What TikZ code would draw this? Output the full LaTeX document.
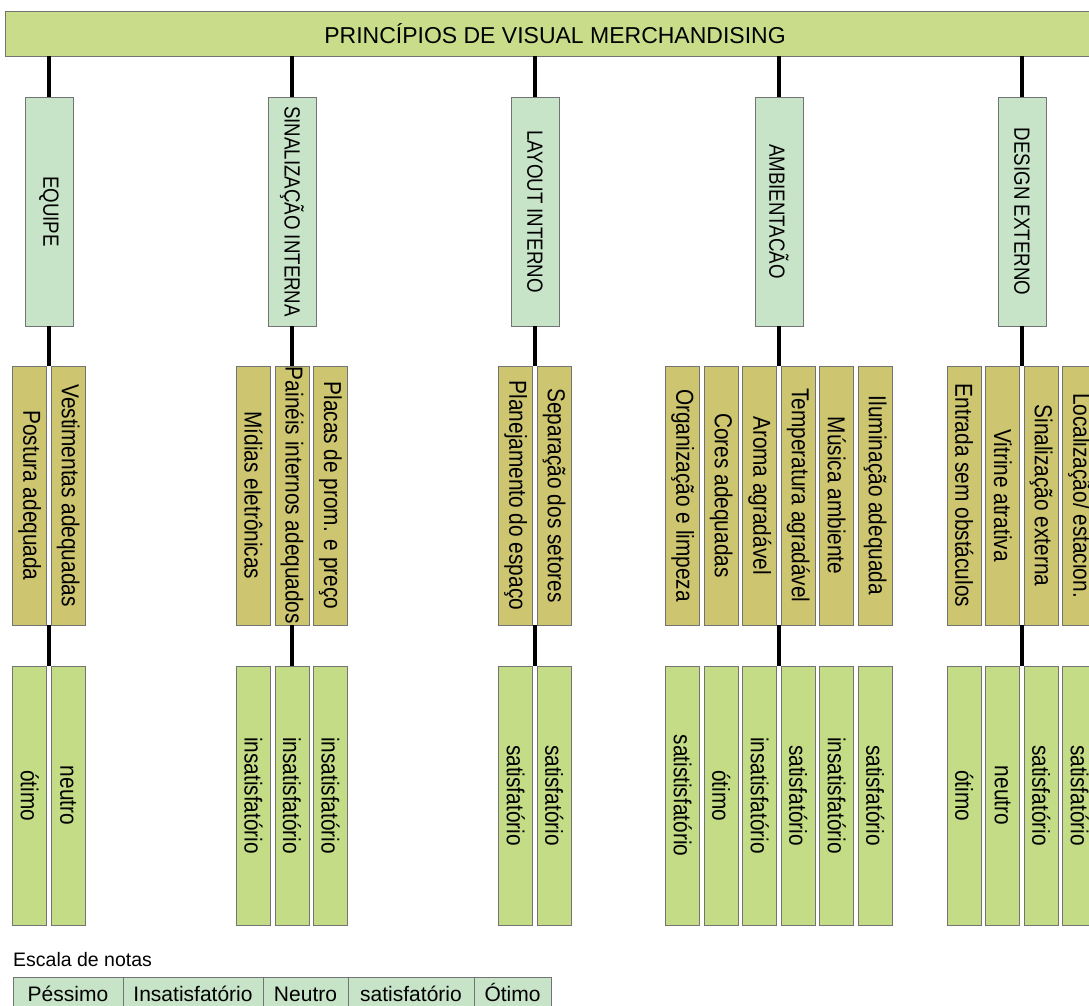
\documentclass[tikz,border=0pt]{standalone}
\usepackage{fontspec}
\setmainfont{Liberation Sans}
\newfontfamily\narrowsans[FakeStretch=0.85]{Liberation Sans}
\usetikzlibrary{positioning, chains}

\definecolor{headgreen}{RGB}{200,220,138}
\definecolor{pillargreen}{RGB}{200,228,200}
\definecolor{critolive}{RGB}{205,197,112}
\definecolor{gradegreen}{RGB}{197,220,134}

\newcommand{\vtxt}[1]{\rotatebox{-90}{#1}}

\begin{document}
\begin{tikzpicture}[x=1pt, y=-1pt, node distance=3.7pt,
    box/.style={draw=black!55, line width=0.8pt, inner sep=0pt},
    headbar/.style={box, fill=headgreen, minimum width=1100pt, minimum height=45pt,
      font=\fontsize{23}{27}\selectfont},
    pillar/.style={box, fill=pillargreen, minimum width=48pt, minimum height=229pt,
      font=\narrowsans\fontsize{22}{24}\selectfont},
    crit/.style={box, fill=critolive, minimum width=34pt, minimum height=259pt,
      font=\narrowsans\fontsize{24.5}{26}\selectfont},
    grade/.style={crit, fill=gradegreen},
    notecell/.style={box, fill=pillargreen, outer sep=0pt, minimum height=36pt,
      text height=16pt, text depth=4pt, font=\fontsize{21}{24}\selectfont},
    link/.style={line width=4.5pt}]

  \useasboundingbox (0,0) rectangle (1089,1006);
  \clip (0,0) rectangle (1089,1006);

  \node[headbar] (head) at (555,33.5) {PRINCÍPIOS DE VISUAL MERCHANDISING};

  % the five principles
  \node[pillar] (eq) at (49,211.5)   {\vtxt{EQUIPE}};
  \node[pillar] (si) at (292,211.5)  {\vtxt{SINALIZAÇÃO INTERNA}};
  \node[pillar] (la) at (535,211.5)  {\vtxt{LAYOUT INTERNO}};
  \node[pillar] (am) at (779,211.5)  {\vtxt{AMBIENTACÃO}};
  \node[pillar] (de) at (1022,211.5) {\vtxt{DESIGN EXTERNO}};

  % criteria
  \begin{scope}[start chain=eqcrit going right]
    \node[crit, on chain] at (29.75,495.5) {\vtxt{Postura adequada}};
    \node[crit, on chain] {\vtxt{Vestimentas adequadas}};
  \end{scope}
  \begin{scope}[start chain=sicrit going right]
    \node[crit, on chain] at (253.5,495.5) {\vtxt{Mídias eletrônicas}};
    \node[crit, on chain] {\vtxt{Painéis internos adequados}};
    \node[crit, on chain] {\vtxt{Placas de prom. e preço}};
  \end{scope}
  \begin{scope}[start chain=lacrit going right]
    \node[crit, on chain] at (515.75,495.5) {\vtxt{Planejamento do espaço}};
    \node[crit, on chain] {\vtxt{Separação dos setores}};
  \end{scope}
  \begin{scope}[start chain=amcrit going right]
    \node[crit, on chain] at (682.75,495.5) {\vtxt{Organização e limpeza}};
    \node[crit, on chain] {\vtxt{Cores adequadas}};
    \node[crit, on chain] {\vtxt{Aroma agradável}};
    \node[crit, on chain] {\vtxt{Temperatura agradável}};
    \node[crit, on chain] {\vtxt{Música ambiente}};
    \node[crit, on chain] {\vtxt{Iluminação adequada}};
  \end{scope}
  \begin{scope}[start chain=decrit going right]
    \node[crit, on chain] at (964.25,495.5) {\vtxt{Entrada sem obstáculos}};
    \node[crit, on chain] {\vtxt{Vitrine atrativa}};
    \node[crit, on chain] {\vtxt{Sinalização externa}};
    \node[crit, on chain] {\vtxt{Localização/ estacion.}};
  \end{scope}

  % grades
  \begin{scope}[start chain=eqgrade going right]
    \node[grade, on chain] at (29.75,795.5) {\vtxt{ótimo}};
    \node[grade, on chain] {\vtxt{neutro}};
  \end{scope}
  \begin{scope}[start chain=sigrade going right]
    \node[grade, on chain] at (253.5,795.5) {\vtxt{insatisfatório}};
    \node[grade, on chain] {\vtxt{insatisfatório}};
    \node[grade, on chain] {\vtxt{insatisfatório}};
  \end{scope}
  \begin{scope}[start chain=lagrade going right]
    \node[grade, on chain] at (515.75,795.5) {\vtxt{satisfatório}};
    \node[grade, on chain] {\vtxt{satisfatório}};
  \end{scope}
  \begin{scope}[start chain=amgrade going right]
    \node[grade, on chain] at (682.75,795.5) {\vtxt{satistisfatório}};
    \node[grade, on chain] {\vtxt{ótimo}};
    \node[grade, on chain] {\vtxt{insatisfatório}};
    \node[grade, on chain] {\vtxt{satisfatório}};
    \node[grade, on chain] {\vtxt{insatisfatório}};
    \node[grade, on chain] {\vtxt{satisfatório}};
  \end{scope}
  \begin{scope}[start chain=degrade going right]
    \node[grade, on chain] at (964.25,795.5) {\vtxt{ótimo}};
    \node[grade, on chain] {\vtxt{neutro}};
    \node[grade, on chain] {\vtxt{satisfatório}};
    \node[grade, on chain] {\vtxt{satisfatório}};
  \end{scope}

  \foreach \col in {eq,si,la,am,de} {
    \draw[link] (\col.north) -- (\col.north |- head.south);
    \draw[link] (\col.south) -- (\col.south |- \col crit-1.north);
    \draw[link] (\col.south |- \col crit-1.south) -- (\col.south |- \col grade-1.north);
  }

  % scale of grades
  \node[anchor=base west, inner sep=0pt, font=\fontsize{19.5}{22}\selectfont]
    (scalelabel) at (13,966) {Escala de notas};
  \begin{scope}[start chain=notes going right, node distance=0pt]
    \node[notecell, on chain, minimum width=110pt] at (68,995) {Péssimo};
    \node[notecell, on chain, minimum width=140pt] {Insatisfatório};
    \node[notecell, on chain, minimum width=85pt] {Neutro};
    \node[notecell, on chain, minimum width=126pt] {satisfatório};
    \node[notecell, on chain, minimum width=77pt] {Ótimo};
  \end{scope}
\end{tikzpicture}
\end{document}
